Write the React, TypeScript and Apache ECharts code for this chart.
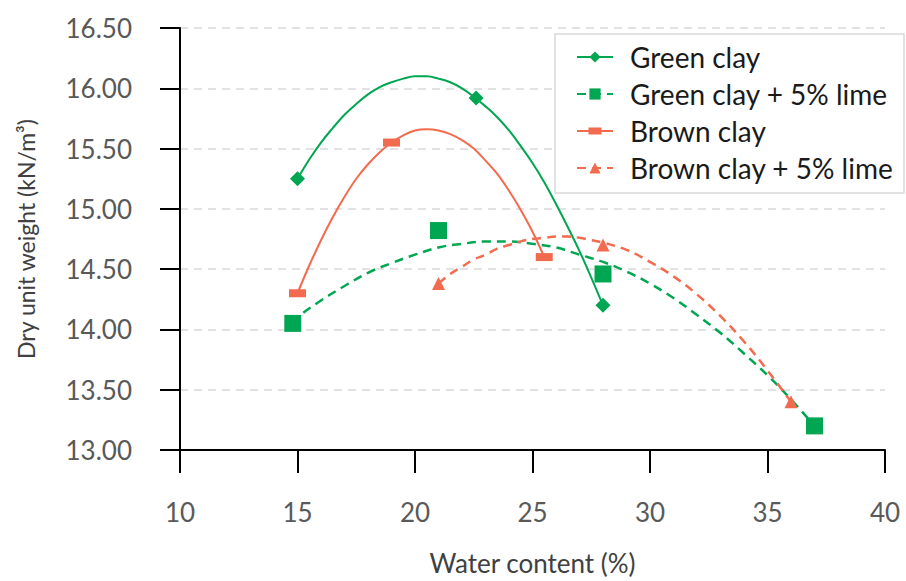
import React, { useEffect, useRef } from "react";
import * as echarts from "echarts";

// Measured points [water content %, dry unit weight kN/m3]
const greenClayPts = [[15, 15.25], [22.6, 15.92], [28, 14.2]];
const greenLimePts = [[14.8, 14.05], [21, 14.82], [28, 14.46], [37, 13.2]];
const brownClayPts = [[15, 14.3], [19, 15.55], [25.5, 14.6]];
const brownLimePts = [[21, 14.38], [28, 14.7], [36, 13.4]];

// Trend curves
const greenClayCurve = [
  [15, 15.25], [15.5, 15.41], [16, 15.55], [16.5, 15.67], [17, 15.78], [17.5, 15.87],
  [18, 15.95], [18.5, 16.01], [19, 16.05], [19.5, 16.08], [20, 16.1], [20.5, 16.1],
  [21, 16.08], [21.5, 16.05], [22, 16.0], [22.5, 15.93], [23, 15.85], [23.5, 15.76],
  [24, 15.65], [24.5, 15.52], [25, 15.38], [25.5, 15.22], [26, 15.04], [26.5, 14.85],
  [27, 14.65], [27.5, 14.43], [28, 14.2],
];
const greenLimeCurve = [
  [14.8, 14.05], [15, 14.1], [16, 14.24], [17, 14.36], [18, 14.47], [19, 14.55],
  [20, 14.62], [21, 14.68], [22, 14.71], [23, 14.73], [24, 14.73], [25, 14.71],
  [26, 14.68], [27, 14.62], [28, 14.56], [29, 14.48], [30, 14.38], [31, 14.26],
  [32, 14.12], [33, 13.97], [34, 13.8], [35, 13.62], [36, 13.42], [37, 13.2],
];
const brownClayCurve = [
  [15, 14.3], [15.5, 14.53], [16, 14.74], [16.5, 14.93], [17, 15.1], [17.5, 15.25],
  [18, 15.37], [18.5, 15.47], [19, 15.55], [19.5, 15.61], [20, 15.65], [20.5, 15.66],
  [21, 15.65], [21.5, 15.62], [22, 15.57], [22.5, 15.5], [23, 15.4], [23.5, 15.29],
  [24, 15.15], [24.5, 14.99], [25, 14.81], [25.5, 14.6],
];
const brownLimeCurve = [
  [21, 14.38], [21.5, 14.46], [22, 14.52], [22.5, 14.58], [23, 14.62], [23.5, 14.67],
  [24, 14.7], [24.5, 14.73], [25, 14.75], [25.5, 14.76], [26, 14.77], [26.5, 14.77],
  [27, 14.76], [27.5, 14.74], [28, 14.72], [29, 14.66], [30, 14.56], [31, 14.44],
  [32, 14.29], [33, 14.11], [34, 13.9], [35, 13.66], [36, 13.4],
];

const seriesNames = ["Green clay", "Green clay + 5% lime", "Brown clay", "Brown clay + 5% lime"];
const xTicks = { min: 10, max: 40, interval: 5 };
const yTicks = { min: 13, max: 16.5, interval: 0.5 };

const GREEN = "#00A651";
const ORANGE = "#F26B4F";
const FONT = "Lato";
const BROWN_LEGEND_ICON = "path://M0,0 M36,14 M0,6h36v2h-36z M11.5,3.5h13v7h-13z";

export default function App() {
  const ref = useRef<HTMLDivElement>(null);
  useEffect(() => {
    if (!ref.current) return;
    const chart = echarts.init(ref.current, null, { renderer: "svg" });
    const curve = (name: string, data: number[][], color: string, dashed: boolean, symbol: string, symbolSize: any) => ({
      name,
      type: "line",
      data,
      smooth: 0.4,
      showSymbol: false,
      symbol,
      symbolSize,
      lineStyle: { color, width: dashed ? 2.5 : 2, type: dashed ? [9, 6] : "solid" },
      itemStyle: { color },
      z: 2,
    });
    const pts = (name: string, data: number[][], color: string, symbol: string, symbolSize: any) => ({
      name,
      type: "scatter",
      data,
      symbol,
      symbolSize,
      itemStyle: { color, opacity: 1 },
      z: 4,
    });
    chart.setOption({
      animation: false,
      backgroundColor: "#ffffff",
      textStyle: { fontFamily: FONT },
      grid: { left: 180, right: 21, top: 28, bottom: 128 },
      xAxis: {
        type: "value",
        min: xTicks.min,
        max: xTicks.max,
        interval: xTicks.interval,
        name: "Water content (%)",
        nameLocation: "middle",
        nameGap: 100,
        nameTextStyle: { fontFamily: FONT, fontSize: 26, color: "#404040" },
        axisLine: { show: true, onZero: false, lineStyle: { color: "#000", width: 2 } },
        axisTick: { show: true, length: 23, lineStyle: { color: "#000", width: 2 } },
        axisLabel: { margin: 49, fontFamily: FONT, fontSize: 26, color: "#595959" },
        splitLine: { show: false },
      },
      yAxis: {
        type: "value",
        min: yTicks.min,
        max: yTicks.max,
        interval: yTicks.interval,
        name: "Dry unit weight (kN/m³)",
        nameLocation: "middle",
        nameGap: 143,
        nameTextStyle: { fontFamily: FONT, fontSize: 23, color: "#404040" },
        axisLine: { show: true, onZero: false, lineStyle: { color: "#000", width: 2 } },
        axisTick: { show: true, length: 20, lineStyle: { color: "#000", width: 2 } },
        axisLabel: {
          margin: 48,
          fontFamily: FONT,
          fontSize: 26,
          color: "#595959",
          formatter: (v: number) => v.toFixed(2),
        },
        splitLine: { show: true, lineStyle: { color: "#d9d9d9", width: 1.5, type: [8, 6] } },
      },
      graphic: [
        {
          type: "rect",
          z: 3,
          shape: { x: 555, y: 34, width: 349, height: 159 },
          style: { fill: "#ffffff", stroke: "#d9d9d9", lineWidth: 1.5 },
        },
      ],
      legend: {
        data: [
          { name: seriesNames[0] },
          { name: seriesNames[1] },
          { name: seriesNames[2], icon: BROWN_LEGEND_ICON },
          { name: seriesNames[3] },
        ],
        orient: "vertical",
        left: 571,
        top: 38,
        itemWidth: 36,
        itemHeight: 14,
        itemGap: 9,
        z: 10,
        textStyle: { fontFamily: FONT, fontSize: 28, color: "#1a1a1a", lineHeight: 27, padding: [0, 0, 0, 12] },
      },
      series: [
        curve(seriesNames[0], greenClayCurve, GREEN, false, "diamond", 15),
        curve(seriesNames[1], greenLimeCurve, GREEN, true, "rect", 17),
        curve(seriesNames[2], brownClayCurve, ORANGE, false, "rect", 17),
        curve(seriesNames[3], brownLimeCurve, ORANGE, true, "triangle", 13),
        pts("gc", greenClayPts, GREEN, "diamond", 15),
        pts("gl", greenLimePts, GREEN, "rect", 17),
        pts("bc", brownClayPts, ORANGE, "rect", [17, 8]),
        pts("bl", brownLimePts, ORANGE, "triangle", 13),
      ],
    });
    return () => chart.dispose();
  }, []);
  return <div ref={ref} style={{ position: "absolute", left: 0, top: 0, width: 906, height: 581 }} />;
}
